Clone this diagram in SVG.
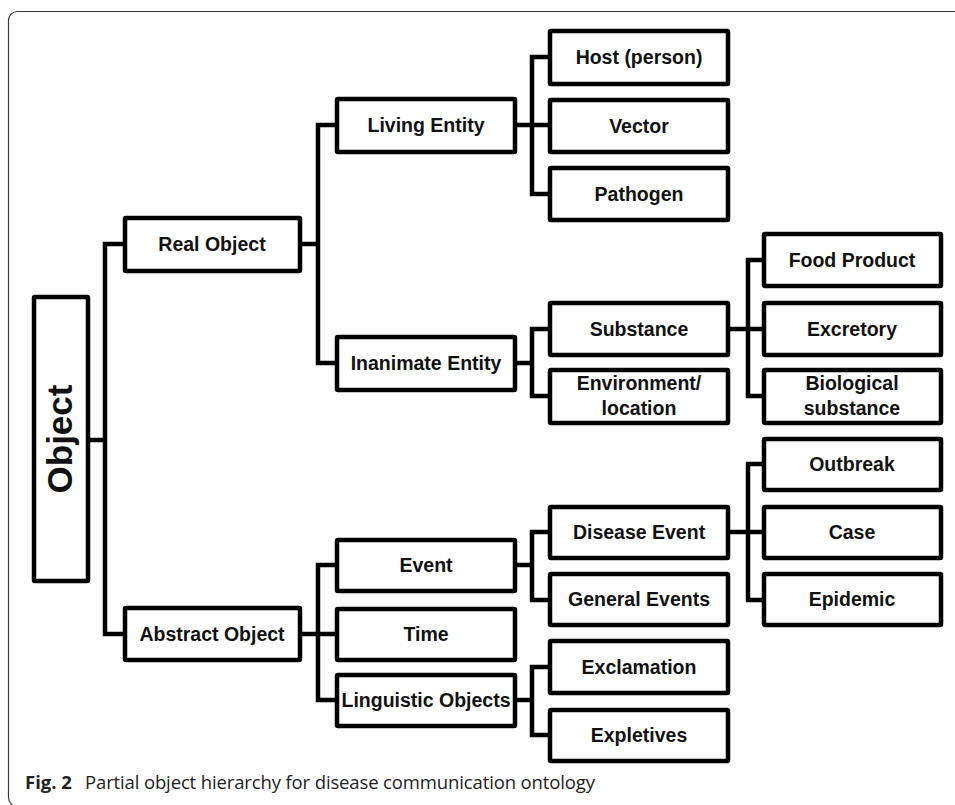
<svg xmlns="http://www.w3.org/2000/svg" width="955" height="805" viewBox="0 0 955 805">
  <style>
    .frame { fill: none; stroke: #3a3a3a; stroke-width: 1.2; }
    .box { fill: #fff; stroke: #000; stroke-width: 4.5; stroke-linejoin: round; }
    .lbl { font-family: "Liberation Sans", Arial, sans-serif; font-weight: bold; font-size: 19.5px; fill: #111; text-anchor: middle; }
    .root { font-family: "Liberation Sans", Arial, sans-serif; font-weight: bold; font-size: 35px; fill: #111; text-anchor: middle; }
    .wire { fill: none; stroke: #000; stroke-width: 4.5; stroke-linejoin: miter; stroke-linecap: butt; }
    .cap { font-family: "Open Sans", "Noto Sans", sans-serif; font-size: 18.5px; fill: #222; }
    .capb { font-weight: bold; }
  </style>

  <!-- figure frame, open to the right and below -->
  <rect class="frame" x="8.5" y="11.5" width="970" height="795" rx="9"/>

  <!-- tree connectors -->
  <g id="connectors">
    <path class="wire" d="M90,440 H105"/>
    <path class="wire" d="M125,244 H105 V634 H125"/>
    <path class="wire" d="M302,244 H318"/>
    <path class="wire" d="M337,125 H318 V363 H337"/>
    <path class="wire" d="M517,125 H550"/>
    <path class="wire" d="M550,57 H532 V194 H550"/>
    <path class="wire" d="M517,363 H532"/>
    <path class="wire" d="M550,329 H532 V396 H550"/>
    <path class="wire" d="M730,329 H764"/>
    <path class="wire" d="M764,260 H748 V396 H764"/>
    <path class="wire" d="M302,634 H337"/>
    <path class="wire" d="M337,565 H318 V700 H337"/>
    <path class="wire" d="M517,565 H532"/>
    <path class="wire" d="M550,532 H532 V600 H550"/>
    <path class="wire" d="M730,532 H764"/>
    <path class="wire" d="M764,464 H748 V600 H764"/>
    <path class="wire" d="M517,700 H532"/>
    <path class="wire" d="M550,667 H532 V735 H550"/>
  </g>

  <!-- root -->
  <g id="object">
    <rect class="box" x="34" y="297" width="54" height="284" rx="1"/>
    <text class="root" transform="translate(72,439) rotate(-90)">Object</text>
  </g>

  <!-- level 1 -->
  <g id="real-object">
    <rect class="box" x="125" y="218" width="175" height="53" rx="1"/>
    <text class="lbl" x="212" y="251">Real Object</text>
  </g>
  <g id="abstract-object">
    <rect class="box" x="125" y="608" width="175" height="52" rx="1"/>
    <text class="lbl" x="212" y="641">Abstract Object</text>
  </g>

  <!-- level 2 -->
  <g id="living-entity">
    <rect class="box" x="337" y="99" width="178" height="53" rx="1"/>
    <text class="lbl" x="426" y="132">Living Entity</text>
  </g>
  <g id="inanimate-entity">
    <rect class="box" x="337" y="337" width="178" height="53" rx="1"/>
    <text class="lbl" x="426" y="370">Inanimate Entity</text>
  </g>
  <g id="event">
    <rect class="box" x="337" y="540" width="178" height="51" rx="1"/>
    <text class="lbl" x="426" y="572">Event</text>
  </g>
  <g id="time">
    <rect class="box" x="337" y="609" width="178" height="51" rx="1"/>
    <text class="lbl" x="426" y="641">Time</text>
  </g>
  <g id="linguistic-objects">
    <rect class="box" x="337" y="675" width="178" height="51" rx="1"/>
    <text class="lbl" x="426" y="707">Linguistic Objects</text>
  </g>

  <!-- level 3 -->
  <g id="host">
    <rect class="box" x="550" y="31" width="178" height="53" rx="1"/>
    <text class="lbl" x="639" y="64">Host (person)</text>
  </g>
  <g id="vector">
    <rect class="box" x="550" y="100" width="178" height="52" rx="1"/>
    <text class="lbl" x="639" y="133">Vector</text>
  </g>
  <g id="pathogen">
    <rect class="box" x="550" y="168" width="178" height="52" rx="1"/>
    <text class="lbl" x="639" y="201">Pathogen</text>
  </g>
  <g id="substance">
    <rect class="box" x="550" y="303" width="178" height="52" rx="1"/>
    <text class="lbl" x="639" y="336">Substance</text>
  </g>
  <g id="environment-location">
    <rect class="box" x="550" y="370" width="178" height="53" rx="1"/>
    <text class="lbl" x="639" y="390">Environment/</text>
    <text class="lbl" x="639" y="415">location</text>
  </g>
  <g id="disease-event">
    <rect class="box" x="550" y="507" width="178" height="51" rx="1"/>
    <text class="lbl" x="639" y="539">Disease Event</text>
  </g>
  <g id="general-events">
    <rect class="box" x="550" y="574" width="178" height="51" rx="1"/>
    <text class="lbl" x="639" y="606">General Events</text>
  </g>
  <g id="exclamation">
    <rect class="box" x="550" y="641" width="178" height="52" rx="1"/>
    <text class="lbl" x="639" y="674">Exclamation</text>
  </g>
  <g id="expletives">
    <rect class="box" x="550" y="710" width="178" height="51" rx="1"/>
    <text class="lbl" x="639" y="742">Expletives</text>
  </g>

  <!-- level 4 -->
  <g id="food-product">
    <rect class="box" x="764" y="234" width="177" height="52" rx="1"/>
    <text class="lbl" x="852" y="267">Food Product</text>
  </g>
  <g id="excretory">
    <rect class="box" x="764" y="303" width="177" height="52" rx="1"/>
    <text class="lbl" x="852" y="336">Excretory</text>
  </g>
  <g id="biological-substance">
    <rect class="box" x="764" y="370" width="177" height="53" rx="1"/>
    <text class="lbl" x="852" y="390">Biological</text>
    <text class="lbl" x="852" y="415">substance</text>
  </g>
  <g id="outbreak">
    <rect class="box" x="764" y="439" width="177" height="51" rx="1"/>
    <text class="lbl" x="852" y="471">Outbreak</text>
  </g>
  <g id="case">
    <rect class="box" x="764" y="507" width="177" height="51" rx="1"/>
    <text class="lbl" x="852" y="539">Case</text>
  </g>
  <g id="epidemic">
    <rect class="box" x="764" y="574" width="177" height="51" rx="1"/>
    <text class="lbl" x="852" y="606">Epidemic</text>
  </g>

  <!-- caption -->
  <text class="cap" x="25" y="789"><tspan class="capb">Fig. 2</tspan><tspan x="85" textLength="510">Partial object hierarchy for disease communication ontology</tspan></text>
</svg>
